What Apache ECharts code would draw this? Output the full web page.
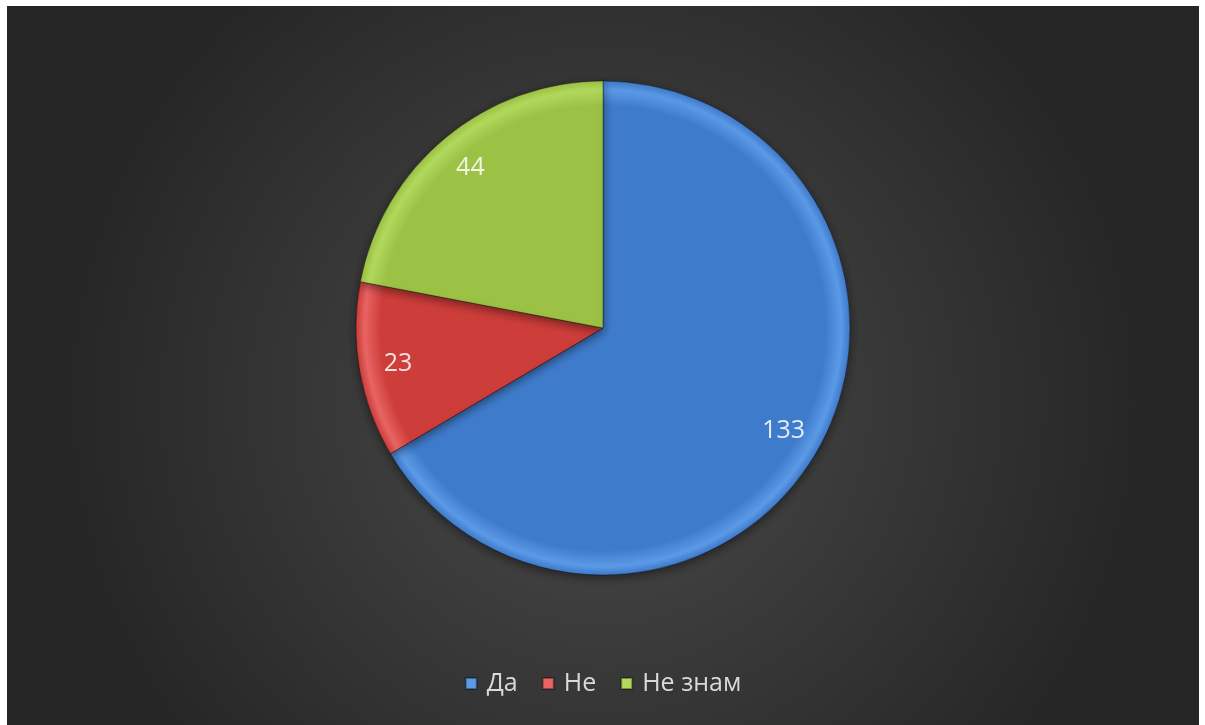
<!DOCTYPE html>
<html>
<head>
<meta charset="utf-8">
<script src="https://cdn.jsdelivr.net/npm/echarts@6/dist/echarts.min.js"></script>
<style>
  html, body { margin: 0; padding: 0; background: #ffffff; }
  #chart { position: absolute; left: 7px; top: 6px; width: 1192px; height: 719px; }
</style>
</head>
<body>
<div id="chart"></div>
<script>
// Answers and their counts
const categories = ['Да', 'Не', 'Не знам'];
const counts = [133, 23, 44];
// Base and light rim colour for each slice
const baseColors = ['#3f7bcb', '#cd3d3a', '#9bc244'];
const rimColors = ['#5b9ae6', '#e86563', '#b3d95c'];

const CX = 596, CY = 322, R = 247;

function sliceFill(i) {
  return {
    type: 'radial', x: CX, y: CY, r: R, global: true,
    colorStops: [
      { offset: 0, color: baseColors[i] },
      { offset: 0.9, color: baseColors[i] },
      { offset: 0.965, color: rimColors[i] },
      { offset: 1, color: baseColors[i] }
    ]
  };
}

const chart = echarts.init(document.getElementById('chart'));
chart.setOption({
  animation: false,
  backgroundColor: {
    type: 'radial', x: 0.5, y: 0.55, r: 0.75,
    colorStops: [
      { offset: 0, color: '#4b4b4b' },
      { offset: 1, color: '#262626' }
    ]
  },
  legend: {
    bottom: 24,
    left: 'center',
    itemWidth: 11,
    itemHeight: 11,
    itemGap: 24,
    icon: 'rect',
    textStyle: { color: '#d9d9d9', fontSize: 25, fontFamily: 'Open Sans, sans-serif', padding: [0, 0, 0, 5] },
    data: categories.map((c, i) => ({ name: c, itemStyle: { color: rimColors[i] } }))
  },
  series: [
    {
      type: 'pie',
      center: [CX, CY],
      radius: R,
      startAngle: 90,
      clockwise: true,
      label: { show: false },
      labelLine: { show: false },
      emphasis: { disabled: true },
      itemStyle: {
        borderColor: 'rgba(0,0,0,0.35)',
        borderWidth: 1,
        shadowBlur: 10,
        shadowColor: 'rgba(0,0,0,0.45)',
        shadowOffsetY: 3
      },
      data: categories.map((c, i) => ({ name: c, value: counts[i], itemStyle: { color: sliceFill(i) } }))
    },
    {
      // Transparent ring that places the value labels near the rim
      type: 'pie',
      center: [CX, CY],
      radius: [163, R],
      startAngle: 90,
      clockwise: true,
      silent: true,
      itemStyle: { color: 'rgba(0,0,0,0)' },
      emphasis: { disabled: true },
      label: {
        show: true,
        position: 'inside',
        formatter: '{c}',
        color: 'rgba(255,255,255,0.85)',
        fontSize: 25,
        fontFamily: 'Open Sans, sans-serif'
      },
      labelLine: { show: false },
      data: categories.map((c, i) => ({ name: c, value: counts[i] }))
    }
  ]
});
</script>
</body>
</html>
